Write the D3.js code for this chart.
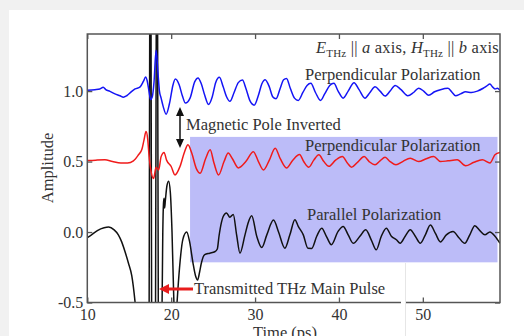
<!DOCTYPE html>
<meta charset="utf-8">
<style>
html, body {
  margin: 0;
  background: #f1f1f1;
}

.chart {
  display: block;
  font-family: "Liberation Serif", "Times New Roman", serif;
}

.chart .frame {
  fill: none;
  stroke: #555;
  stroke-width: 1.5;
}

.chart .axis path {
  display: none;
}

.chart .axis line {
  stroke: #555;
  stroke-width: 1.3;
}

.chart .axis text {
  font-family: "Liberation Serif", "Times New Roman", serif;
  font-size: 16px;
  fill: #333;
}

.chart .trace {
  fill: none;
  stroke-width: 1.5;
  stroke-linejoin: round;
}

.chart .note {
  font-size: 16.5px;
  fill: #333;
}
</style>
<body>
<svg class="chart js-chart" width="524" height="336"></svg>

<script src="https://d3js.org/d3.v7.min.js"></script>
<script>
"use strict";

// time (ps), amplitude pairs
var perpTop = [
  [10.0, 1.005], [10.9, 1.01], [11.5, 1.015], [11.9, 1.027], [12.2, 1.01], [12.7, 0.998],
  [13.3, 0.98], [13.9, 0.967], [14.3, 0.957], [14.7, 0.967], [15.3, 0.998], [15.7, 1.015],
  [16.3, 1.03], [16.7, 1.07], [16.95, 1.1], [17.15, 1.07], [17.35, 1.0], [17.55, 0.94],
  [17.75, 0.96], [17.95, 1.06], [18.2, 1.29], [18.4, 1.15], [18.6, 1.0], [18.8, 0.95],
  [19.05, 0.89], [19.4, 0.836], [19.85, 0.927], [20.2, 1.04], [20.5, 1.085], [20.95, 1.045],
  [21.35, 0.963], [21.7, 0.915], [22.25, 0.95], [22.8, 1.065], [23.2, 1.093], [23.6, 1.05],
  [24.0, 0.97], [24.45, 0.905], [24.9, 0.96], [25.3, 1.06], [25.75, 1.098], [26.2, 1.03],
  [26.6, 0.96], [27.0, 0.927], [27.5, 0.99], [28.0, 1.06], [28.5, 1.078], [28.9, 1.02],
  [29.4, 0.93], [29.9, 0.9], [30.4, 0.97], [30.8, 1.05], [31.2, 1.08], [31.7, 1.03],
  [32.1, 0.96], [32.5, 0.945], [33.0, 1.02], [33.4, 1.08], [33.75, 1.09], [34.2, 1.02],
  [34.7, 0.95], [35.15, 0.934], [35.7, 0.99], [36.2, 1.04], [36.65, 1.055], [37.2, 0.99],
  [37.8, 0.934], [38.3, 0.98], [38.9, 1.04], [39.4, 1.055], [39.9, 1.0], [40.5, 0.95],
  [41.1, 1.0], [41.8, 1.06], [42.4, 1.01], [43.1, 0.95], [43.7, 0.99], [44.3, 1.03],
  [44.9, 1.0], [45.5, 0.965], [46.1, 1.0], [46.7, 1.04], [47.4, 1.01], [48.2, 0.967],
  [48.9, 0.99], [49.5, 1.02], [50.1, 1.0], [50.7, 0.97], [51.4, 0.995], [52.1, 1.01],
  [53.0, 1.02], [53.5, 0.99], [53.9, 0.967], [54.5, 0.98], [55.1, 0.995], [55.8, 0.99],
  [56.5, 1.0], [57.2, 1.02], [57.6, 1.035], [58.0, 1.05], [58.3, 1.03], [58.6, 1.015],
  [58.9, 1.02], [59.2, 1.005]
];

var perpInverted = [
  [10.0, 0.507], [11.0, 0.51], [12.1, 0.512], [13.0, 0.5], [14.0, 0.49], [14.8, 0.49],
  [15.5, 0.505], [16.1, 0.548], [16.5, 0.585], [16.75, 0.65], [17.0, 0.713], [17.2, 0.66],
  [17.35, 0.55], [17.6, 0.43], [17.9, 0.38], [18.2, 0.46], [18.5, 0.44], [18.8, 0.535],
  [19.15, 0.565], [19.45, 0.51], [20.0, 0.465], [20.45, 0.405], [21.05, 0.465], [21.6, 0.57],
  [22.0, 0.62], [22.45, 0.56], [23.0, 0.45], [23.45, 0.417], [24.1, 0.52], [24.65, 0.583],
  [25.1, 0.49], [25.65, 0.405], [26.3, 0.5], [26.8, 0.56], [27.3, 0.52], [28.0, 0.455],
  [28.9, 0.5], [29.8, 0.57], [30.4, 0.5], [31.0, 0.44], [31.7, 0.51], [32.4, 0.595],
  [33.0, 0.52], [33.75, 0.455], [34.5, 0.51], [35.3, 0.55], [35.8, 0.5], [36.4, 0.46],
  [37.0, 0.51], [37.6, 0.548], [38.2, 0.5], [38.8, 0.466], [39.6, 0.51], [40.4, 0.535],
  [41.0, 0.49], [41.5, 0.46], [42.3, 0.5], [43.0, 0.535], [43.6, 0.5], [44.3, 0.477],
  [44.9, 0.505], [45.5, 0.53], [46.1, 0.5], [46.8, 0.477], [47.6, 0.5], [48.5, 0.524],
  [49.5, 0.5], [50.4, 0.52], [51.3, 0.535], [52.1, 0.5], [53.0, 0.505], [54.1, 0.512],
  [55.1, 0.47], [56.1, 0.495], [57.1, 0.512], [58.0, 0.49], [58.6, 0.548], [59.2, 0.564]
];

var parallel = [
  [10.0, -0.04], [10.5, -0.02], [11.2, 0.01], [12.0, 0.03], [12.55, 0.035], [13.2, 0.015],
  [13.7, -0.02], [14.1, -0.07], [14.5, -0.14], [14.9, -0.22], [15.3, -0.31], [15.7, -0.5],
  [16.0, -0.7], [16.6, -0.9], [17.2, -0.95], [17.36, -0.9], [17.46, 2.0], [17.52, 2.1],
  [17.58, 2.0], [17.68, -0.9], [17.9, -1.0], [18.12, -0.9], [18.24, 2.0], [18.3, 2.1],
  [18.36, 2.0], [18.48, -0.9], [18.7, -0.95], [18.88, -0.7], [19.0, 0.0], [19.08, 0.2],
  [19.15, 0.24], [19.22, 0.17], [19.3, 0.22], [19.5, 0.33], [19.7, 0.36], [19.9, 0.28],
  [20.1, 0.0], [20.3, -0.45], [20.5, -0.7], [20.7, -0.5], [21.0, -0.25], [21.4, -0.05],
  [21.85, 0.0], [22.2, -0.07], [22.6, -0.22], [22.9, -0.31], [23.15, -0.34], [23.4, -0.28],
  [23.6, -0.22], [24.0, -0.16], [24.6, -0.15], [25.2, -0.14], [25.5, -0.12], [25.7, -0.03],
  [26.0, 0.07], [26.2, 0.11], [26.6, 0.135], [27.0, 0.105], [27.4, 0.125], [27.8, -0.02],
  [28.2, -0.15], [28.8, -0.02], [29.2, 0.07], [29.6, 0.115], [30.2, -0.03], [30.8, -0.11],
  [31.4, -0.02], [32.2, 0.085], [32.8, 0.0], [33.55, -0.115], [34.15, -0.02], [34.75, 0.087],
  [35.15, 0.04], [35.75, -0.02], [36.3, -0.115], [36.75, -0.116], [37.35, -0.03], [37.95, 0.027],
  [38.5, -0.03], [39.1, -0.09], [39.9, 0.005], [40.5, 0.04], [41.1, -0.02], [41.7, -0.08],
  [42.5, -0.03], [43.2, 0.016], [43.85, -0.055], [44.45, -0.126], [45.05, -0.03], [45.65, 0.027],
  [46.25, -0.03], [46.85, -0.055], [47.3, -0.08], [47.9, -0.03], [48.5, 0.016], [49.1, -0.03],
  [49.7, -0.08], [50.3, -0.02], [50.9, 0.05], [51.5, -0.01], [52.1, -0.07], [52.8, -0.02],
  [53.6, 0.004], [54.3, -0.04], [55.0, -0.08], [55.6, -0.02], [56.2, 0.045], [56.8, 0.01],
  [57.4, -0.02], [58.0, 0.0], [58.6, -0.03], [59.2, -0.08]
];

var xTicks = [10, 20, 30, 40, 50];
var yTicks = [-0.5, 0.0, 0.5, 1.0];
var yTickLabels = ["-0.5", "0.0", "0.5", "1.0"];

// shaded window: time span and amplitude span
var shadeTime = [22.25, 58.9];
var shadeAmp = [-0.215, 0.675];

var svg = d3.select(".js-chart");

var box = { left: 87.3, top: 34, right: 500, bottom: 302.5 };

var x = d3.scaleLinear().domain([10, 59.2]).range([box.left, box.right]);
var y = d3.scaleLinear().domain([-0.5, 1.405]).range([box.bottom, box.top]);

// white card over grey page edge
svg.append("rect")
  .attr("x", 9).attr("y", 10)
  .attr("width", 515).attr("height", 326)
  .attr("fill", "#fff");

svg.append("defs").append("clipPath")
  .attr("id", "plot-clip")
  .append("rect")
    .attr("x", box.left).attr("y", box.top)
    .attr("width", box.right - box.left).attr("height", box.bottom - box.top);

svg.append("rect")
  .attr("x", x(shadeTime[0]))
  .attr("y", y(shadeAmp[1]))
  .attr("width", x(shadeTime[1]) - x(shadeTime[0]))
  .attr("height", y(shadeAmp[0]) - y(shadeAmp[1]))
  .attr("fill", "#bcbcf8");

var line = d3.line()
  .x(function (d) { return x(d[0]); })
  .y(function (d) { return y(d[1]); })
  .curve(d3.curveMonotoneX);

var traces = svg.append("g").attr("clip-path", "url(#plot-clip)");

[
  { data: parallel, color: "#111" },
  { data: perpInverted, color: "#f01a1a" },
  { data: perpTop, color: "#1414f5" }
].forEach(function (s) {
  traces.append("path")
    .attr("class", "trace")
    .attr("stroke", s.color)
    .attr("d", line(s.data));
});

// axes, ticks pointing inwards
svg.append("g")
  .attr("class", "axis")
  .attr("transform", "translate(0," + box.bottom + ")")
  .call(d3.axisBottom(x).tickValues(xTicks).tickSize(-5).tickPadding(6));

svg.append("g")
  .attr("class", "axis")
  .attr("transform", "translate(0," + box.top + ")")
  .call(d3.axisTop(x).tickValues(xTicks).tickSize(-5).tickFormat(""));

svg.append("g")
  .attr("class", "axis")
  .attr("transform", "translate(" + box.left + ",0)")
  .call(d3.axisLeft(y).tickValues(yTicks).tickSize(-5).tickPadding(4)
    .tickFormat(function (d, i) { return yTickLabels[i]; }));

svg.append("g")
  .attr("class", "axis")
  .attr("transform", "translate(" + box.right + ",0)")
  .call(d3.axisRight(y).tickValues(yTicks).tickSize(-5).tickFormat(""));

svg.append("rect")
  .attr("class", "frame")
  .attr("x", box.left).attr("y", box.top)
  .attr("width", box.right - box.left).attr("height", box.bottom - box.top);

// axis titles
svg.append("text")
  .attr("class", "note")
  .attr("text-anchor", "middle")
  .attr("transform", "translate(53,168) rotate(-90)")
  .text("Amplitude");

svg.append("text")
  .attr("class", "note")
  .attr("text-anchor", "middle")
  .attr("x", 285).attr("y", 338)
  .text("Time (ps)");

// annotations
var cond = svg.append("text")
  .attr("class", "note")
  .attr("text-anchor", "end")
  .attr("x", 499).attr("y", 53);
cond.append("tspan").attr("font-style", "italic").text("E");
cond.append("tspan").attr("font-size", "11px").attr("dy", 3.5).text("THz");
cond.append("tspan").attr("dy", -3.5).text(" || ");
cond.append("tspan").attr("font-style", "italic").text("a");
cond.append("tspan").text(" axis, ");
cond.append("tspan").attr("font-style", "italic").text("H");
cond.append("tspan").attr("font-size", "11px").attr("dy", 3.5).text("THz");
cond.append("tspan").attr("dy", -3.5).text(" || ");
cond.append("tspan").attr("font-style", "italic").text("b");
cond.append("tspan").text(" axis");
cond.attr("letter-spacing", 0.2);

svg.append("text").attr("class", "note")
  .attr("x", 305).attr("y", 80)
  .text("Perpendicular Polarization");

svg.append("text").attr("class", "note")
  .attr("x", 186).attr("y", 130)
  .text("Magnetic Pole Inverted");

svg.append("text").attr("class", "note")
  .attr("x", 305).attr("y", 150.5)
  .text("Perpendicular Polarization");

svg.append("text").attr("class", "note")
  .attr("x", 307).attr("y", 220)
  .text("Parallel Polarization");

svg.append("text").attr("class", "note")
  .attr("x", 194).attr("y", 294)
  .text("Transmitted THz Main Pulse");

// double arrow for the inverted pole
svg.append("line")
  .attr("x1", 180).attr("x2", 180)
  .attr("y1", 113).attr("y2", 142)
  .attr("stroke", "#111").attr("stroke-width", 1.5);
svg.append("path")
  .attr("d", "M180,107L176,116L184,116Z M180,148L176,139L184,139Z")
  .attr("fill", "#111");

// red arrow to main pulse
svg.append("line")
  .attr("x1", 193).attr("x2", 166)
  .attr("y1", 289).attr("y2", 289)
  .attr("stroke", "#e81c1c").attr("stroke-width", 3);
svg.append("path")
  .attr("d", "M159,289L169,284L169,294Z")
  .attr("fill", "#e81c1c");

// white seam of the source image
svg.append("rect")
  .attr("x", 401).attr("y", 263)
  .attr("width", 4).attr("height", 73)
  .attr("fill", "#fff");
svg.append("line")
  .attr("x1", 405.5).attr("x2", 405.5)
  .attr("y1", 263).attr("y2", 336)
  .attr("stroke", "#e6e6e6").attr("stroke-width", 1);
</script>
</body>
